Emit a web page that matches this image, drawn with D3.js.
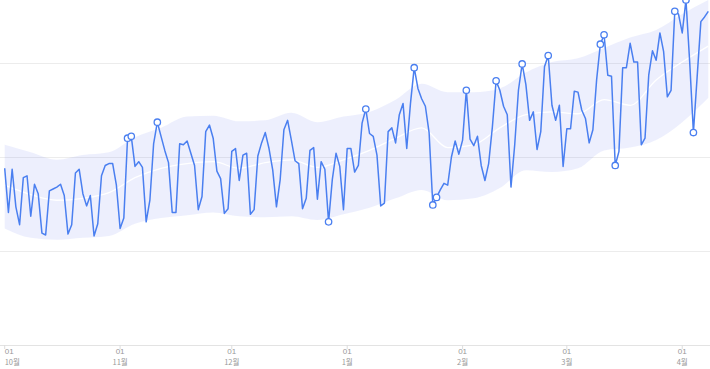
<!DOCTYPE html>
<html lang="ko">
<head>
<meta charset="utf-8">
<title>anomaly chart</title>
<script src="https://cdn.jsdelivr.net/npm/d3@7"></script>
<style>
  body { margin: 0; background: #fff; }
  .tick-day { fill: #999; font-size: 8px; font-family: "Liberation Sans", Arial, sans-serif; }
  .tick-month { fill: #999; font-size: 7.5px; font-family: "Noto Sans CJK KR", sans-serif; }
</style>
</head>
<body>
<div id="chart"></div>
<script>

// first day of the daily series
var startDate = Date.UTC(2022, 9, 1);

// daily values, Oct 1 .. Apr 8
var values = [188,141,187,147,128,178,180,137,171,161,
  119,117,164,166,168,171,159,118,128,183,
  187,161,148,159,116,129,180,191,193,193,
  170,124,135,220,222,190,195,189,131,154,
  214,237,222,207,194,141,141,214,213,217,
  204,191,144,158,227,234,220,185,177,140,
  145,206,209,175,202,204,139,144,201,215,
  226,209,186,147,176,229,239,218,196,193,
  145,156,207,210,155,195,187,131,176,204,
  190,144,209,209,184,191,236,251,225,222,
  202,148,151,227,231,215,245,257,209,257,
  295,273,262,254,226,149,157,165,172,170,
  200,217,203,218,271,219,212,222,191,175,
  193,232,281,271,254,245,168,213,271,299,
  277,239,248,208,227,296,308,255,239,255,
  190,230,230,270,269,250,241,215,229,282,
  320,330,287,286,191,206,295,295,321,301,
  301,213,220,287,313,303,332,312,264,271,
  355,352,332,367,301,226,285,344,349,355];

// days flagged as anomalies (index into values)
var anomalyDays = [33,34,41,87,97,110,115,116,124,132,139,146,160,161,164,180,183,185];

// expected band, sampled weekly
var bandDays     = [0,7,14,21,28,35,42,49,56,63,70,77,84,91,98,105,112,119,126,133,140,147,154,161,168,175,182,189];
var bandUpper    = [213,205,197,202,205,221,231,243,244,238,239,247,237,243,248,261,278,269,269,273,290,301,305,316,327,335,352,367];
var bandExpected = [170,160,154,156,162,178,188,193,195,188,194,197,189,197,207,220,231,210,213,231,245,248,246,261,255,282,301,318];
var bandLower    = [124,114,112,114,116,129,135,138,141,137,136,137,133,139,146,156,165,154,156,167,186,184,188,207,210,218,237,263];

// axis
var gridValues = [0, 100, 200, 300, 400];
var tickDays = ["01", "01", "01", "01", "01", "01", "01"];
var tickMonths = ["10월", "11월", "12월", "1월", "2월", "3월", "4월"];

var width = 710, height = 369;
var dayMs = 864e5;

function dayDate(i) { return new Date(startDate + i * dayMs); }

var x = d3.scaleUtc()
  .domain([dayDate(0), dayDate(189)])
  .range([4.7, 708.3]);

var y = d3.scaleLinear()
  .domain([0, 400])
  .range([345, -31]);

var svg = d3.select("#chart")
  .append("svg")
  .attr("width", width)
  .attr("height", height)
  .style("display", "block");

// horizontal grid lines
svg.append("g")
  .selectAll("line")
  .data(gridValues)
  .enter()
  .append("line")
  .attr("x1", 0)
  .attr("x2", width)
  .attr("y1", function(d) { return Math.round(y(d)) + 0.5; })
  .attr("y2", function(d) { return Math.round(y(d)) + 0.5; })
  .attr("stroke", function(d) { return d === 0 ? "#e3e3e3" : "#ececec"; })
  .attr("stroke-width", 1);

// band
var band = bandDays.map(function(d, i) {
  return { date: dayDate(d), hi: bandUpper[i], mid: bandExpected[i], lo: bandLower[i] };
});

svg.append("path")
  .datum(band)
  .attr("fill", "rgb(90,110,240)")
  .attr("fill-opacity", 0.11)
  .attr("d", d3.area()
    .curve(d3.curveMonotoneX)
    .x(function(d) { return x(d.date); })
    .y0(function(d) { return y(d.lo); })
    .y1(function(d) { return y(d.hi); }));

svg.append("path")
  .datum(band)
  .attr("fill", "none")
  .attr("stroke", "#fff")
  .attr("stroke-width", 1.3)
  .attr("d", d3.line()
    .curve(d3.curveMonotoneX)
    .x(function(d) { return x(d.date); })
    .y(function(d) { return y(d.mid); }));

// series line
var series = values.map(function(v, i) { return { date: dayDate(i), value: v }; });

svg.append("path")
  .datum(series)
  .attr("fill", "none")
  .attr("stroke", "#4a7ff0")
  .attr("stroke-width", 1.5)
  .attr("stroke-linejoin", "round")
  .attr("d", d3.line()
    .x(function(d) { return x(d.date); })
    .y(function(d) { return y(d.value); }));

// anomaly markers
svg.append("g")
  .selectAll("circle")
  .data(anomalyDays)
  .enter()
  .append("circle")
  .attr("cx", function(d) { return x(series[d].date); })
  .attr("cy", function(d) { return y(series[d].value); })
  .attr("r", 3.2)
  .attr("fill", "#fff")
  .attr("stroke", "#4a7ff0")
  .attr("stroke-width", 1.3);

// month ticks
var tickDates = d3.utcMonth.range(dayDate(0), dayDate(190));

var ticks = svg.append("g")
  .selectAll("g")
  .data(tickDates)
  .enter()
  .append("g")
  .attr("transform", function(d) { return "translate(" + x(d) + ",0)"; });

ticks.append("line")
  .attr("y1", 345)
  .attr("y2", 349)
  .attr("stroke", "#ddd");

// first label sits right of its tick so it is not cut off
function anchor(d) { return x(d) < 10 ? "start" : "middle"; }

ticks.append("text")
  .attr("class", "tick-day")
  .attr("text-anchor", anchor)
  .attr("y", 354)
  .text(function(d, i) { return tickDays[i]; });

ticks.append("text")
  .attr("class", "tick-month")
  .attr("text-anchor", anchor)
  .attr("y", 364.5)
  .text(function(d, i) { return tickMonths[i]; });

</script>
</body>
</html>
